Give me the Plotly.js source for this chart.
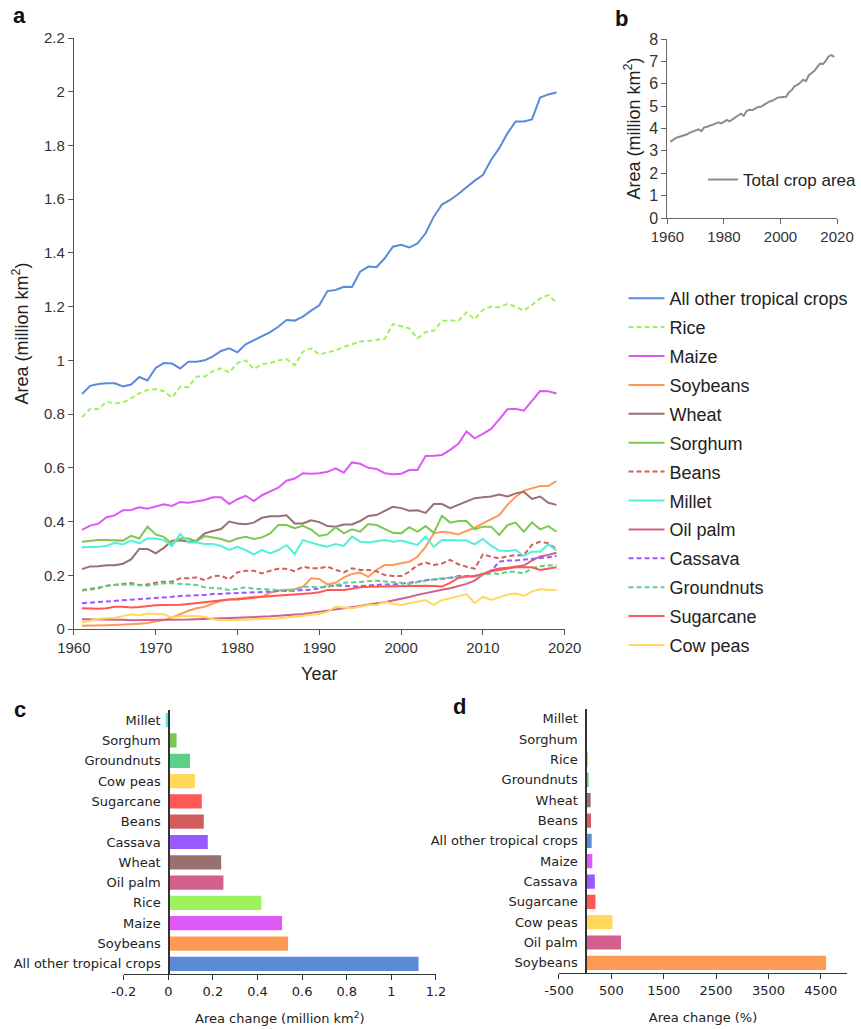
<!DOCTYPE html>
<html>
<head>
<meta charset="utf-8">
<script src="https://cdn.plot.ly/plotly-3.0.1.min.js"></script>
<style>
  html, body { margin: 0; padding: 0; background: #fff; }
  #chart { width: 861px; height: 1029px; }
</style>
</head>
<body>
<div id="chart"></div>
<script>
// ---------- data: harvested area, million km² (1961–2019) ----------
const years = [1961,1962,1963,1964,1965,1966,1967,1968,1969,1970,
  1971,1972,1973,1974,1975,1976,1977,1978,1979,1980,
  1981,1982,1983,1984,1985,1986,1987,1988,1989,1990,
  1991,1992,1993,1994,1995,1996,1997,1998,1999,2000,
  2001,2002,2003,2004,2005,2006,2007,2008,2009,2010,
  2011,2012,2013,2014,2015,2016,2017,2018,2019];

const allOther = [0.875,0.905,0.912,0.915,0.915,0.903,0.91,0.938,0.925,0.972,
  0.99,0.988,0.97,0.995,0.995,1.0,1.015,1.035,1.045,1.03,
  1.06,1.075,1.09,1.105,1.125,1.15,1.148,1.163,1.185,1.205,
  1.258,1.262,1.274,1.273,1.33,1.349,1.347,1.38,1.423,1.43,
  1.42,1.435,1.473,1.535,1.58,1.597,1.619,1.644,1.669,1.69,
  1.746,1.79,1.845,1.889,1.889,1.897,1.978,1.99,1.997];

const rice = [0.788,0.82,0.818,0.846,0.84,0.843,0.859,0.877,0.89,0.893,
  0.885,0.862,0.902,0.9,0.94,0.94,0.96,0.97,0.955,0.99,
  1.0,0.968,0.985,0.99,1.0,1.005,0.982,1.032,1.045,1.022,
  1.03,1.037,1.05,1.06,1.07,1.072,1.076,1.08,1.135,1.128,
  1.119,1.082,1.105,1.11,1.147,1.148,1.147,1.179,1.153,1.188,
  1.2,1.197,1.21,1.2,1.185,1.206,1.231,1.243,1.215];

const maize = [0.369,0.385,0.392,0.416,0.423,0.442,0.443,0.453,0.448,0.455,
  0.464,0.458,0.473,0.47,0.476,0.48,0.49,0.49,0.465,0.483,
  0.496,0.476,0.498,0.511,0.526,0.552,0.56,0.58,0.578,0.58,
  0.585,0.598,0.582,0.62,0.615,0.6,0.596,0.58,0.576,0.578,
  0.592,0.592,0.644,0.645,0.648,0.667,0.689,0.735,0.71,0.726,
  0.745,0.78,0.818,0.82,0.813,0.849,0.886,0.885,0.877];

const soybeans = [0.012,0.012,0.013,0.014,0.015,0.016,0.018,0.02,0.022,0.027,
  0.033,0.042,0.055,0.068,0.077,0.083,0.095,0.105,0.11,0.113,
  0.116,0.12,0.12,0.135,0.143,0.145,0.148,0.157,0.189,0.186,
  0.166,0.172,0.192,0.205,0.21,0.194,0.22,0.238,0.238,0.245,
  0.25,0.269,0.306,0.356,0.362,0.358,0.352,0.365,0.377,0.393,
  0.41,0.424,0.462,0.492,0.515,0.524,0.532,0.532,0.551];

const wheat = [0.223,0.233,0.234,0.237,0.237,0.243,0.259,0.298,0.298,0.282,
  0.302,0.329,0.33,0.325,0.329,0.356,0.365,0.372,0.4,0.393,
  0.39,0.396,0.414,0.42,0.42,0.423,0.393,0.393,0.405,0.398,
  0.383,0.381,0.389,0.389,0.402,0.421,0.424,0.44,0.455,0.45,
  0.44,0.442,0.432,0.465,0.465,0.45,0.462,0.474,0.487,0.49,
  0.493,0.501,0.493,0.505,0.511,0.484,0.493,0.47,0.462];

const sorghum = [0.325,0.329,0.331,0.331,0.331,0.329,0.347,0.337,0.381,0.352,
  0.343,0.316,0.337,0.337,0.327,0.346,0.341,0.335,0.325,0.337,
  0.343,0.335,0.341,0.356,0.387,0.387,0.375,0.384,0.37,0.346,
  0.352,0.379,0.356,0.371,0.362,0.391,0.387,0.371,0.358,0.356,
  0.379,0.362,0.383,0.358,0.421,0.396,0.402,0.402,0.371,0.381,
  0.381,0.35,0.387,0.396,0.362,0.397,0.371,0.383,0.362];

const beans = [0.143,0.147,0.152,0.161,0.164,0.168,0.171,0.164,0.166,0.172,
  0.176,0.176,0.189,0.189,0.192,0.182,0.197,0.198,0.185,0.211,
  0.217,0.217,0.207,0.217,0.224,0.224,0.215,0.232,0.226,0.226,
  0.232,0.22,0.211,0.226,0.22,0.22,0.215,0.201,0.197,0.197,
  0.213,0.238,0.247,0.238,0.244,0.257,0.241,0.232,0.224,0.278,
  0.269,0.263,0.271,0.275,0.275,0.313,0.325,0.319,0.297];

const millet = [0.304,0.304,0.306,0.309,0.321,0.315,0.329,0.319,0.337,0.337,
  0.331,0.309,0.354,0.322,0.322,0.316,0.316,0.309,0.294,0.306,
  0.294,0.278,0.294,0.281,0.294,0.312,0.279,0.331,0.321,0.313,
  0.306,0.316,0.309,0.344,0.325,0.322,0.327,0.331,0.325,0.329,
  0.321,0.313,0.344,0.306,0.331,0.331,0.329,0.329,0.315,0.335,
  0.31,0.292,0.29,0.294,0.272,0.288,0.288,0.315,0.292];

const oilPalm = [0.036,0.036,0.035,0.035,0.034,0.034,0.033,0.033,0.033,0.033,
  0.033,0.034,0.034,0.035,0.036,0.037,0.038,0.039,0.04,0.041,
  0.042,0.043,0.045,0.047,0.049,0.051,0.053,0.056,0.06,0.064,
  0.068,0.072,0.076,0.081,0.086,0.091,0.095,0.1,0.106,0.112,
  0.119,0.127,0.134,0.14,0.146,0.152,0.159,0.168,0.18,0.203,
  0.218,0.225,0.228,0.231,0.236,0.255,0.27,0.276,0.284];

const cassava = [0.096,0.098,0.1,0.102,0.104,0.106,0.108,0.11,0.113,0.115,
  0.117,0.12,0.123,0.124,0.125,0.127,0.13,0.131,0.132,0.133,
  0.135,0.137,0.138,0.139,0.141,0.141,0.142,0.145,0.146,0.151,
  0.161,0.161,0.162,0.158,0.16,0.164,0.164,0.166,0.166,0.168,
  0.172,0.176,0.182,0.184,0.188,0.19,0.197,0.197,0.197,0.205,
  0.215,0.251,0.255,0.255,0.258,0.26,0.263,0.267,0.272];

const groundnuts = [0.145,0.15,0.157,0.16,0.164,0.166,0.166,0.163,0.161,0.166,
  0.17,0.17,0.168,0.166,0.164,0.155,0.153,0.151,0.145,0.15,
  0.155,0.15,0.148,0.145,0.143,0.143,0.145,0.157,0.157,0.155,
  0.157,0.162,0.172,0.173,0.175,0.178,0.18,0.177,0.175,0.172,
  0.168,0.175,0.18,0.185,0.189,0.192,0.195,0.195,0.195,0.2,
  0.207,0.205,0.213,0.213,0.207,0.226,0.234,0.236,0.238];

const sugarcane = [0.077,0.076,0.075,0.077,0.083,0.083,0.08,0.082,0.086,0.088,
  0.089,0.089,0.09,0.093,0.096,0.099,0.102,0.106,0.11,0.11,
  0.112,0.116,0.12,0.122,0.124,0.125,0.127,0.13,0.133,0.137,
  0.145,0.145,0.145,0.15,0.155,0.157,0.158,0.158,0.158,0.16,
  0.161,0.161,0.161,0.16,0.158,0.172,0.19,0.195,0.197,0.205,
  0.215,0.22,0.225,0.23,0.23,0.23,0.22,0.225,0.23];

const cowPeas = [0.024,0.031,0.038,0.04,0.042,0.048,0.055,0.05,0.058,0.056,
  0.055,0.042,0.048,0.048,0.048,0.045,0.036,0.033,0.033,0.033,
  0.034,0.036,0.036,0.038,0.04,0.043,0.046,0.05,0.053,0.056,
  0.064,0.083,0.08,0.077,0.083,0.089,0.089,0.102,0.093,0.089,
  0.096,0.102,0.108,0.089,0.108,0.114,0.123,0.13,0.096,0.12,
  0.108,0.117,0.128,0.132,0.123,0.139,0.149,0.145,0.145];

// Total crop area (million km²)
const totalArea = [3.40,3.50,3.58,3.62,3.66,3.67,3.74,3.82,3.86,3.93,
  3.96,3.88,4.05,4.08,4.12,4.18,4.22,4.28,4.23,4.30,
  4.38,4.32,4.42,4.50,4.58,4.66,4.57,4.78,4.84,4.82,
  4.90,4.96,4.97,5.05,5.15,5.20,5.24,5.30,5.38,5.40,
  5.41,5.42,5.62,5.72,5.90,5.95,6.05,6.18,6.12,6.38,
  6.48,6.58,6.75,6.90,6.88,7.02,7.22,7.28,7.20];

// Absolute change 1961–2019 (million km²), top to bottom
const changeCrops = ["Millet","Sorghum","Groundnuts","Cow peas","Sugarcane","Beans",
  "Cassava","Wheat","Oil palm","Rice","Maize","Soybeans","All other tropical crops"];
const changeAbs = [-0.012,0.037,0.097,0.119,0.150,0.159,0.177,0.237,0.247,0.417,0.510,0.537,1.122];

// Relative change 1961–2019 (%), top to bottom
const pctCrops = ["Millet","Sorghum","Rice","Groundnuts","Wheat","Beans",
  "All other tropical crops","Maize","Cassava","Sugarcane","Cow peas","Oil palm","Soybeans"];
const changePct = [-4,11,53,65,104,112,124,136,184,197,520,685,4600];

// Tick labels for the bar-chart axes
const absTicks = [-0.2,0,0.2,0.4,0.6,0.8,1,1.2];
const absTickText = ["-0.2","0","0.2","0.4","0.6","0.8","1","1.2"];
const pctTicks = [-500,500,1500,2500,3500,4500];
const pctTickText = ["-500","500","1500","2500","3500","4500"];

// ---------- styling ----------
const cropColors = {
  "All other tropical crops": "#5b8bd8",
  "Rice": "#9ef35c",
  "Maize": "#dd58f6",
  "Soybeans": "#ff9a55",
  "Wheat": "#987070",
  "Sorghum": "#7cc850",
  "Beans": "#d25e5e",
  "Millet": "#52f0da",
  "Oil palm": "#d45e8c",
  "Cassava": "#9a58ff",
  "Groundnuts": "#5ccf88",
  "Sugarcane": "#ff5656",
  "Cow peas": "#ffd85c"
};
const dashed = new Set(["Rice", "Beans", "Cassava", "Groundnuts"]);

const series = [
  ["All other tropical crops", allOther],
  ["Rice", rice],
  ["Maize", maize],
  ["Soybeans", soybeans],
  ["Wheat", wheat],
  ["Sorghum", sorghum],
  ["Beans", beans],
  ["Millet", millet],
  ["Oil palm", oilPalm],
  ["Cassava", cassava],
  ["Groundnuts", groundnuts],
  ["Sugarcane", sugarcane],
  ["Cow peas", cowPeas]
];

const W = 861, H = 1029;
const fx = p => p / W;          // pixel column -> paper x
const fy = p => 1 - p / H;      // pixel row -> paper y

const ARIAL = "Liberation Sans, Arial, sans-serif";
const DEJAVU = "DejaVu Sans, Verdana, sans-serif";

const traces = [];

// Panel a: area per crop
series.forEach(([name, vals]) => {
  traces.push({
    type: "scatter", mode: "lines", x: years, y: vals, name: name,
    xaxis: "x", yaxis: "y", legend: "legend", legendgroup: name,
    line: { color: cropColors[name], width: 2, dash: dashed.has(name) ? "5px,3px" : "solid" }
  });
});

// Panel b: total crop area
traces.push({
  type: "scatter", mode: "lines", x: years, y: totalArea, name: "Total crop area",
  xaxis: "x2", yaxis: "y2", legend: "legend2",
  line: { color: "#8c8c8c", width: 2 }
});

// Panel c: absolute change
traces.push({
  type: "bar", orientation: "h", x: changeAbs, y: changeCrops,
  xaxis: "x3", yaxis: "y3", showlegend: false,
  marker: { color: changeCrops.map(c => cropColors[c]) }
});

// Panel d: relative change
traces.push({
  type: "bar", orientation: "h", x: changePct, y: pctCrops,
  xaxis: "x4", yaxis: "y4", showlegend: false,
  marker: { color: pctCrops.map(c => cropColors[c]) }
});

const lineAxis = (extra) => Object.assign({
  showline: true, linecolor: "#555", linewidth: 1,
  ticks: "outside", ticklen: 5, tickcolor: "#555",
  showgrid: false, zeroline: false, automargin: false,
  tickfont: { family: ARIAL, size: 15, color: "#333" }
}, extra);

const barXAxis = (extra) => Object.assign({
  showline: true, linecolor: "#333", linewidth: 1.2,
  ticks: "outside", ticklen: 5, tickcolor: "#333",
  showgrid: false, zeroline: false, automargin: false,
  tickfont: { family: DEJAVU, size: 13, color: "#222" }
}, extra);

const barYAxis = (extra) => Object.assign({
  type: "category", autorange: "reversed",
  showline: true, linecolor: "#333", linewidth: 1.2,
  ticks: "", showgrid: false, zeroline: false, automargin: false,
  ticklabelstandoff: 5,
  tickfont: { family: DEJAVU, size: 13, color: "#222" }
}, extra);

const layout = {
  width: W, height: H,
  margin: { l: 0, r: 0, t: 0, b: 0 },
  paper_bgcolor: "#fff", plot_bgcolor: "rgba(0,0,0,0)",
  bargap: 0.3,
  font: { family: ARIAL, color: "#222" },

  xaxis: lineAxis({
    domain: [fx(74), fx(566)], anchor: "y", range: [1960, 2020], tick0: 1960, dtick: 10,
    title: { text: "Year", standoff: 12, font: { family: ARIAL, size: 18, color: "#222" } }
  }),
  yaxis: lineAxis({
    domain: [fy(629), fy(38)], anchor: "x", range: [0, 2.2], tick0: 0, dtick: 0.2,
    title: { text: "Area (million km<sup>2</sup>)", font: { family: ARIAL, size: 18, color: "#222" } }
  }),

  xaxis2: lineAxis({
    domain: [fx(669), fx(839)], anchor: "y2", range: [1960, 2020], tick0: 1960, dtick: 20,
    linecolor: "#666", tickcolor: "#666"
  }),
  yaxis2: lineAxis({
    domain: [fy(218), fy(39)], anchor: "x2", range: [0, 8], tick0: 0, dtick: 1,
    linecolor: "#666", tickcolor: "#666",
    tickfont: { family: ARIAL, size: 16, color: "#333" },
    title: { text: "Area (million km<sup>2</sup>)", standoff: 4, font: { family: ARIAL, size: 18, color: "#222" } }
  }),

  xaxis3: barXAxis({
    domain: [fx(124), fx(437)], anchor: "y3", range: [-0.2, 1.2],
    tickmode: "array", tickvals: absTicks, ticktext: absTickText,
    title: { text: "Area change (million km<sup>2</sup>)", font: { family: DEJAVU, size: 13, color: "#222" } }
  }),
  yaxis3: barYAxis({
    domain: [fy(974), fy(710)], anchor: "free", position: fx(168.7)
  }),

  xaxis4: barXAxis({
    domain: [fx(560.3), fx(849)], anchor: "y4", range: [-500, 5000],
    tickmode: "array", tickvals: pctTicks, ticktext: pctTickText,
    title: { text: "Area change (%)", font: { family: DEJAVU, size: 13, color: "#222" } }
  }),
  yaxis4: barYAxis({
    domain: [fy(973), fy(708.7)], anchor: "free", position: fx(586.7)
  }),

  legend: {
    x: fx(625), y: fy(280), xanchor: "left", yanchor: "top",
    bgcolor: "rgba(0,0,0,0)", borderwidth: 0,
    font: { family: ARIAL, size: 18, color: "#222" },
    itemwidth: 36, tracegroupgap: 2.5
  },
  legend2: {
    x: fx(705), y: fy(180), xanchor: "left", yanchor: "middle",
    bgcolor: "rgba(0,0,0,0)", borderwidth: 0,
    font: { family: ARIAL, size: 17, color: "#222" }
  },

  annotations: [
    { text: "<b>a</b>", x: fx(20), y: fy(16), xref: "paper", yref: "paper", xanchor: "center", yanchor: "middle", showarrow: false, font: { family: ARIAL, size: 22, color: "#111" } },
    { text: "<b>b</b>", x: fx(623), y: fy(19), xref: "paper", yref: "paper", xanchor: "center", yanchor: "middle", showarrow: false, font: { family: ARIAL, size: 22, color: "#111" } },
    { text: "<b>c</b>", x: fx(20), y: fy(709), xref: "paper", yref: "paper", xanchor: "center", yanchor: "middle", showarrow: false, font: { family: ARIAL, size: 22, color: "#111" } },
    { text: "<b>d</b>", x: fx(461), y: fy(706), xref: "paper", yref: "paper", xanchor: "center", yanchor: "middle", showarrow: false, font: { family: ARIAL, size: 22, color: "#111" } }
  ]
};

Plotly.newPlot("chart", traces, layout, { staticPlot: true, displayModeBar: false });
</script>
</body>
</html>
